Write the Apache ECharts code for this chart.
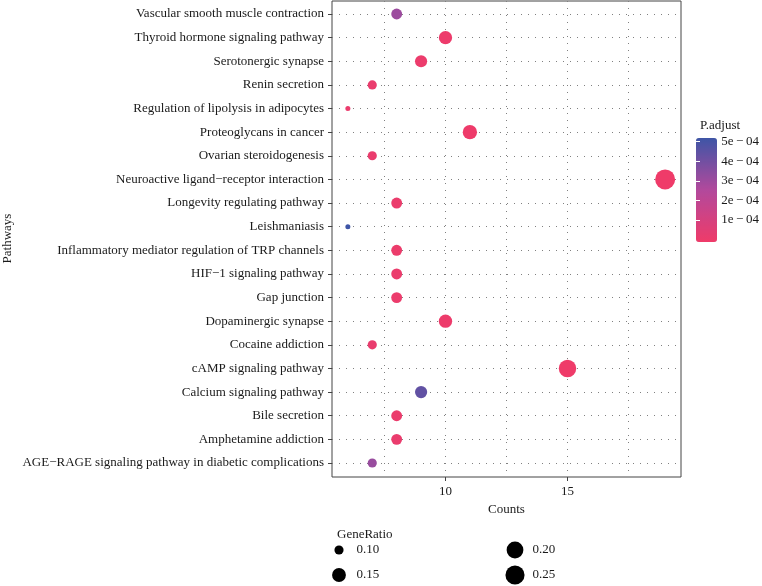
<!DOCTYPE html>
<html>
<head>
<meta charset="utf-8">
<script src="https://cdn.jsdelivr.net/npm/echarts@6/dist/echarts.min.js"></script>
<style>html,body{margin:0;padding:0;background:#fff}#c{width:762px;height:586px}</style>
</head>
<body>
<div id="c"></div>
<script>
const pathways = [
  'Vascular smooth muscle contraction',
  'Thyroid hormone signaling pathway',
  'Serotonergic synapse',
  'Renin secretion',
  'Regulation of lipolysis in adipocytes',
  'Proteoglycans in cancer',
  'Ovarian steroidogenesis',
  'Neuroactive ligand\u2212receptor interaction',
  'Longevity regulating pathway',
  'Leishmaniasis',
  'Inflammatory mediator regulation of TRP channels',
  'HIF\u22121 signaling pathway',
  'Gap junction',
  'Dopaminergic synapse',
  'Cocaine addiction',
  'cAMP signaling pathway',
  'Calcium signaling pathway',
  'Bile secretion',
  'Amphetamine addiction',
  'AGE\u2212RAGE signaling pathway in diabetic complications'
];
const counts = [8, 10, 9, 7, 6, 11, 7, 19, 8, 6, 8, 8, 8, 10, 7, 15, 9, 8, 8, 7];
const geneRatio = [0.1143, 0.1429, 0.1286, 0.1000, 0.0857, 0.1571, 0.1000, 0.2714, 0.1143, 0.0857,
                   0.1143, 0.1143, 0.1143, 0.1429, 0.1000, 0.2143, 0.1286, 0.1143, 0.1143, 0.1000];
const pAdjust = [3.0e-4, 0.9e-5, 1.4e-5, 2.2e-5, 1.8e-5, 0.6e-5, 2.0e-5, 0.1e-5, 1.5e-5, 5.06e-4,
                 1.2e-5, 1.6e-5, 1.3e-5, 0.8e-5, 2.4e-5, 0.2e-5, 4.3e-4, 1.7e-5, 1.9e-5, 3.1e-4];
const xTicks = [10, 15];
const xGridTicks = [7.5, 10, 12.5, 15, 17.5];
const pTicks = [1e-4, 2e-4, 3e-4, 4e-4, 5e-4];
const legendRatios = [0.10, 0.15, 0.20, 0.25];

const FONT = 'Liberation Serif';
const TXT = '#1a1a1a';
const gMin = Math.min(...geneRatio), gMax = Math.max(...geneRatio);
const sizeOf = r => 5 + 15 * Math.sqrt(Math.max(0, (r - gMin) / (gMax - gMin)));
const dotted = { color: '#808080', width: 1, type: [1, 6] };

const mainData = pathways.map((p, i) => [counts[i], p, pAdjust[i], geneRatio[i]]);
const legendData = legendRatios.map((r, i) => [Math.floor(i / 2), i % 2, r]);

const chart = echarts.init(document.getElementById('c'), null, { renderer: 'canvas' });
chart.setOption({
  animation: false,
  textStyle: { fontFamily: FONT },
  title: [
    { text: 'P.adjust', left: 695, top: 114, textStyle: { fontFamily: FONT, fontSize: 13, fontWeight: 'normal', color: TXT } },
    { text: 'GeneRatio', left: 332, top: 523, textStyle: { fontFamily: FONT, fontSize: 13, fontWeight: 'normal', color: TXT } }
  ],
  grid: [
    { left: 332, top: 14, width: 349, height: 449, containLabel: false },
    { left: 332, top: 1, width: 349, height: 476, show: true, borderColor: '#444', borderWidth: 1, backgroundColor: 'transparent' },
    { left: 696, top: 138, width: 21, height: 104 },
    { left: 339, top: 550, width: 176, height: 25 }
  ],
  xAxis: [
    { gridIndex: 0, type: 'value', min: 5.35, max: 19.65, show: false },
    { gridIndex: 1, type: 'value', min: 5.35, max: 19.65, position: 'bottom',
      name: 'Counts', nameLocation: 'middle', nameGap: 24,
      nameTextStyle: { fontFamily: FONT, fontSize: 13, color: TXT },
      axisLine: { show: false },
      axisTick: { show: true, length: 4, customValues: xTicks, lineStyle: { color: '#444' } },
      axisLabel: { customValues: xTicks, margin: 8, fontFamily: FONT, fontSize: 13, color: TXT },
      splitLine: { show: false } },
    { gridIndex: 1, type: 'value', min: 5.35, max: 19.65, position: 'bottom',
      axisLine: { show: false }, axisLabel: { show: false },
      axisTick: { show: false, customValues: xGridTicks },
      splitLine: { show: true, lineStyle: dotted } },
    { gridIndex: 2, type: 'value', show: false },
    { gridIndex: 3, type: 'category', data: ['c0', 'c1'], boundaryGap: false, show: false }
  ],
  yAxis: [
    { gridIndex: 0, type: 'category', data: pathways, inverse: true, boundaryGap: false,
      name: 'Pathways', nameLocation: 'middle', nameGap: 318, nameRotate: 90,
      nameTextStyle: { fontFamily: FONT, fontSize: 13, color: TXT },
      axisLine: { show: false },
      axisTick: { show: true, length: 4, alignWithLabel: true, lineStyle: { color: '#444' } },
      axisLabel: { fontFamily: FONT, fontSize: 13, color: TXT, margin: 8, interval: 0 },
      splitLine: { show: true, interval: 0, lineStyle: dotted } },
    { gridIndex: 1, type: 'value', show: false },
    { gridIndex: 2, type: 'value', min: -0.13e-4, max: 5.19e-4, position: 'right', z: 10,
      axisLine: { show: false },
      axisTick: { show: true, inside: true, length: 4, customValues: pTicks, lineStyle: { color: '#fff', width: 1 } },
      axisLabel: { customValues: pTicks, margin: 8, fontFamily: FONT, fontSize: 13, color: TXT,
        formatter: v => Math.round(v * 1e4) + 'e\u2009\u2212\u200904' },
      splitLine: { show: false } },
    { gridIndex: 2, type: 'value', min: -0.13e-4, max: 5.19e-4, position: 'left', z: 10,
      axisLine: { show: false }, axisLabel: { show: false },
      axisTick: { show: true, inside: true, length: 4, customValues: pTicks, lineStyle: { color: '#fff', width: 1 } },
      splitLine: { show: false } },
    { gridIndex: 3, type: 'category', data: ['r0', 'r1'], inverse: true, boundaryGap: false, show: false }
  ],
  visualMap: {
    type: 'continuous', seriesIndex: 0, dimension: 2, min: 0, max: 5.06e-4,
    left: 681, top: 123, itemWidth: 21, itemHeight: 104, calculable: false, realtime: false,
    text: null, showLabel: false, hoverLink: false, z: 1,
    inRange: { color: ['#EF3B69', '#B2499C', '#3E55A6'] },
    textStyle: { color: 'transparent' }
  },
  series: [
    { type: 'scatter', xAxisIndex: 0, yAxisIndex: 0, data: mainData, z: 5,
      itemStyle: { opacity: 1 },
      symbolSize: v => sizeOf(v[3]) },
    { type: 'scatter', xAxisIndex: 4, yAxisIndex: 4, data: legendData,
      itemStyle: { color: '#000', opacity: 1 }, symbolSize: v => sizeOf(v[2]) },
    { type: 'scatter', xAxisIndex: 4, yAxisIndex: 4, data: legendData,
      symbolSize: 1, itemStyle: { color: 'rgba(0,0,0,0)', opacity: 1 },
      label: { show: true, position: 'right', distance: 17, fontFamily: FONT, fontSize: 13, color: TXT,
        formatter: p => p.value[2].toFixed(2) } }
  ]
});
</script>
</body>
</html>
